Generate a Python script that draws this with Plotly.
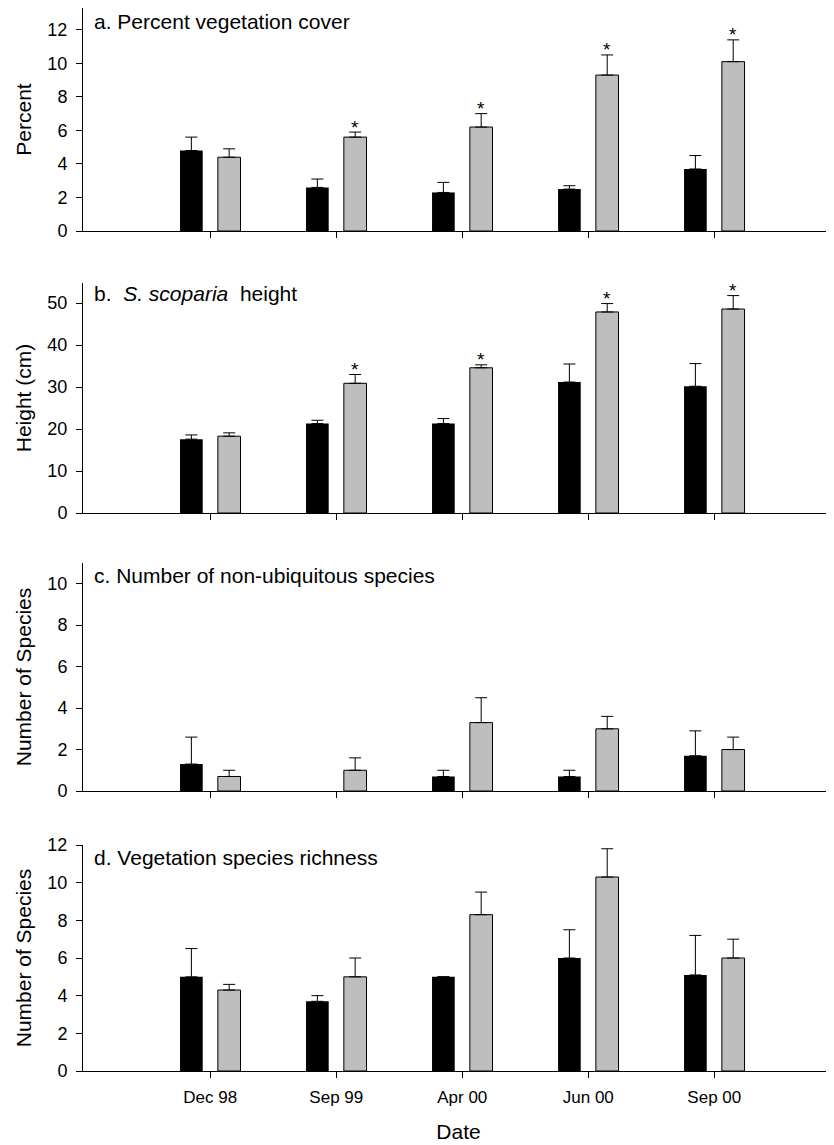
import plotly.graph_objects as go

dates = ["Dec 98", "Sep 99", "Apr 00", "Jun 00", "Sep 00"]

# a. Percent vegetation cover
a_black = [4.8, 2.6, 2.3, 2.5, 3.7]
a_black_err = [0.8, 0.5, 0.6, 0.2, 0.8]
a_gray = [4.4, 5.6, 6.2, 9.3, 10.1]
a_gray_err = [0.5, 0.3, 0.8, 1.2, 1.3]
a_sig = [False, True, True, True, True]

# b. S. scoparia height
b_black = [17.6, 21.3, 21.3, 31.2, 30.2]
b_black_err = [1.0, 0.8, 1.2, 4.3, 5.4]
b_gray = [18.3, 30.9, 34.6, 47.9, 48.6]
b_gray_err = [0.8, 2.1, 0.7, 2.0, 3.2]
b_sig = [False, True, True, True, True]

# c. Number of non-ubiquitous species
c_black = [1.3, 0.0, 0.7, 0.7, 1.7]
c_black_err = [1.3, 0.0, 0.3, 0.3, 1.2]
c_gray = [0.7, 1.0, 3.3, 3.0, 2.0]
c_gray_err = [0.3, 0.6, 1.2, 0.6, 0.6]
c_sig = [False, False, False, False, False]

# d. Vegetation species richness
d_black = [5.0, 3.7, 5.0, 6.0, 5.1]
d_black_err = [1.5, 0.3, 0.0, 1.5, 2.1]
d_gray = [4.3, 5.0, 8.3, 10.3, 6.0]
d_gray_err = [0.3, 1.0, 1.2, 1.5, 1.0]
d_sig = [False, False, False, False, False]

panels = [
    dict(black=a_black, berr=a_black_err, gray=a_gray, gerr=a_gray_err, sig=a_sig,
         title="a. Percent vegetation cover", ytitle="Percent",
         yrange=[0, 13.3], dtick=2, title_y=22),
    dict(black=b_black, berr=b_black_err, gray=b_gray, gerr=b_gray_err, sig=b_sig,
         title="b.  <i>S. scoparia</i>  height", ytitle="Height (cm)",
         yrange=[0, 54.8], dtick=10, title_y=293),
    dict(black=c_black, berr=c_black_err, gray=c_gray, gerr=c_gray_err, sig=c_sig,
         title="c. Number of non-ubiquitous species", ytitle="Number of Species",
         yrange=[0, 11.0], dtick=2, title_y=575),
    dict(black=d_black, berr=d_black_err, gray=d_gray, gerr=d_gray_err, sig=d_sig,
         title="d. Vegetation species richness", ytitle="Number of Species",
         yrange=[0, 12.0], dtick=2, title_y=857),
]

# page body has an 8px margin; lay out in page pixels and convert
OFF = 8
W, H = 834 - OFF, 1145 - OFF
ML = 83 - OFF
areas = [(8, 231), (283, 513), (563, 791), (845, 1071)]   # page pixels (top, bottom)


def py2paper(py):
    return 1 - (py - OFF) / H


def px2paper(px):
    return (px - OFF - ML) / (W - ML)


def bar_vals(vals):
    # a zero mean is drawn as no bar at all
    return [v if v > 0 else None for v in vals]


FONT = "Liberation Sans, Arial, Helvetica, sans-serif"
GRAY = "#bebebe"
TICK_SIZE = 18
TITLE_SIZE = 21

fig = go.Figure()
annotations = []
layout = {}
for i, p in enumerate(panels):
    n = i + 1
    xa = "x" if n == 1 else f"x{n}"
    ya = "y" if n == 1 else f"y{n}"
    fig.add_trace(go.Bar(
        x=dates, y=bar_vals(p["black"]), xaxis=xa, yaxis=ya, name="black",
        marker=dict(color="black", line=dict(width=0)),
        error_y=dict(type="data", array=p["berr"], arrayminus=[0] * 5, symmetric=False,
                     color="black", thickness=1, width=6, visible=True),
        showlegend=False))
    fig.add_trace(go.Bar(
        x=dates, y=bar_vals(p["gray"]), xaxis=xa, yaxis=ya, name="gray",
        marker=dict(color=GRAY, line=dict(color="black", width=1)),
        error_y=dict(type="data", array=p["gerr"], arrayminus=[0] * 5, symmetric=False,
                     color="black", thickness=1, width=6, visible=True),
        showlegend=False))
    top, bot = areas[i]
    dom = [py2paper(bot), py2paper(top)]
    last = (n == 4)
    layout["xaxis" if n == 1 else f"xaxis{n}"] = dict(
        domain=[0, 1], anchor=ya, type="category", range=[-1.01, 4.95],
        showline=True, linecolor="black", linewidth=1,
        ticks="outside", ticklen=6, tickcolor="black", tickwidth=1,
        ticklabelstandoff=5,
        showticklabels=last, showgrid=False, zeroline=False,
        tickfont=dict(family=FONT, size=TICK_SIZE - 1, color="black"),
        title=dict(text="Date" if last else "", font=dict(family=FONT, size=TITLE_SIZE, color="black"),
                   standoff=17),
        automargin=False,
    )
    layout["yaxis" if n == 1 else f"yaxis{n}"] = dict(
        domain=dom, anchor=xa, range=p["yrange"], dtick=p["dtick"], tick0=0,
        showline=True, linecolor="black", linewidth=1,
        ticks="outside", ticklen=6, tickcolor="black", tickwidth=1,
        ticklabelstandoff=5,
        showgrid=False, zeroline=False,
        tickfont=dict(family=FONT, size=TICK_SIZE, color="black"),
        title=dict(text=p["ytitle"], font=dict(family=FONT, size=TITLE_SIZE, color="black"), standoff=10),
        automargin=False,
    )
    # panel title
    annotations.append(dict(
        xref="paper", yref="paper", x=px2paper(92), y=py2paper(p["title_y"]),
        xanchor="left", yanchor="middle", text=p["title"], showarrow=False,
        font=dict(family=FONT, size=TITLE_SIZE, color="black")))
    # significance asterisks
    for d, g, e, s in zip(dates, p["gray"], p["gerr"], p["sig"]):
        if s:
            annotations.append(dict(
                xref=xa, yref=ya, x=d, y=g + e, xshift=19, yshift=5,
                text="*", showarrow=False, xanchor="center", yanchor="middle",
                font=dict(family=FONT, size=19, color="black")))

fig.update_layout(
    width=W, height=H,
    margin=dict(l=ML, r=0, t=0, b=0),
    barmode="group", bargap=0.4, bargroupgap=0.4,
    plot_bgcolor="white", paper_bgcolor="white",
    annotations=annotations,
    **layout,
)

fig.write_html("out.html")
